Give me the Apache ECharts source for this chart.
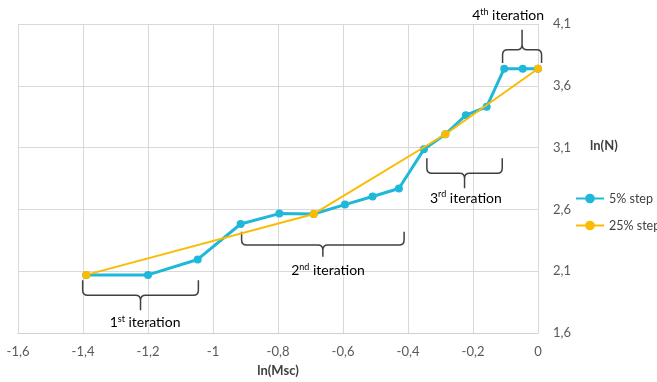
<!DOCTYPE html>
<html>
<head>
<meta charset="utf-8">
<script src="https://cdn.jsdelivr.net/npm/echarts@6/dist/echarts.min.js"></script>
<style>html,body{margin:0;padding:0;background:#fff}#c{width:657px;height:382px}</style>
</head>
<body>
<div id="c"></div>
<script>
// ---- data ----
var step5X = [-1.39, -1.2, -1.047, -0.915, -0.796, -0.69, -0.594, -0.509, -0.428, -0.351, -0.285, -0.222, -0.158, -0.104, -0.047, 0];
var step5Y = [2.07, 2.07, 2.195, 2.482, 2.566, 2.563, 2.639, 2.704, 2.769, 3.086, 3.208, 3.362, 3.43, 3.738, 3.738, 3.738];
var step25X = [-1.39, -0.69, -0.285, 0];
var step25Y = [2.07, 2.563, 3.208, 3.738];
var seriesNames = ['5% step', '25% step'];
var xTicks = [-1.6, -1.4, -1.2, -1, -0.8, -0.6, -0.4, -0.2, 0];
var yTicks = [1.6, 2.1, 2.6, 3.1, 3.6, 4.1];
// bracket annotations: [x1, x2, yEnd, yBar, yTip, labelX, labelY], ordinal, suffix
var bracketSpans = [
  [-1.401, -1.045, 2.027, 1.906, 1.784, -1.209, 1.687],
  [-0.912, -0.412, 2.419, 2.311, 2.216, -0.646, 2.106],
  [-0.342, -0.110, 3.014, 2.892, 2.771, -0.222, 2.692],
  [-0.109, 0.011, 3.784, 3.892, 4.054, -0.092, 4.168]
];
var bracketOrd = ['1', '2', '3', '4'];
var bracketSup = ['st', 'nd', 'rd', 'th'];

var FONT = 'Lato, "Open Sans", sans-serif';
function fmt(v){ var r = Math.round(v*10)/10; return String(r).replace('.', ','); }
function pairs(xs, ys){ return xs.map(function(x,i){ return [x, ys[i]]; }); }

var chart = echarts.init(document.getElementById('c'), null, {renderer:'canvas'});
chart.setOption({
  animation: false,
  backgroundColor: '#fff',
  textStyle: { fontFamily: FONT },
  grid: { left: 18, right: 119, top: 24, bottom: 49 },
  legend: {
    orient: 'vertical', left: 575, top: 192, itemWidth: 28, itemHeight: 12, itemGap: 14, padding: 0,
    data: seriesNames,
    textStyle: { fontFamily: FONT, fontSize: 12.5, color: '#404040', width: 60, overflow: 'none' }
  },
  xAxis: {
    type: 'value', min: xTicks[0], max: xTicks[xTicks.length-1], interval: 0.2,
    name: 'ln(Msc)', nameLocation: 'middle', nameGap: 31,
    nameTextStyle: { fontFamily: FONT, fontSize: 13, fontWeight: 'bold', color: '#404040' },
    axisLine: { show: true, lineStyle: { color: '#d0d0d0', width: 1 } },
    axisTick: { show: false },
    axisLabel: { formatter: fmt, fontFamily: FONT, fontSize: 13, color: '#595959', margin: 12 },
    splitLine: { show: true, lineStyle: { color: '#d9d9d9', width: 1 } }
  },
  yAxis: {
    type: 'value', position: 'right', min: yTicks[0], max: yTicks[yTicks.length-1], interval: 0.5,
    axisLine: { show: false }, axisTick: { show: false },
    axisLabel: { formatter: fmt, fontFamily: FONT, fontSize: 13, color: '#595959', margin: 15 },
    splitLine: { show: true, lineStyle: { color: '#d9d9d9', width: 1 } }
  },
  graphic: [{
    type: 'text', left: 590, top: 139, silent: true,
    style: { text: 'ln(N)', font: 'bold 13px ' + FONT, fill: '#404040' }
  }],
  series: [
    {
      name: seriesNames[0], type: 'line', data: pairs(step5X, step5Y),
      symbol: 'circle', symbolSize: 8, z: 3,
      lineStyle: { color: '#1fb8d8', width: 3 }, itemStyle: { color: '#1fb8d8' }
    },
    {
      name: seriesNames[1], type: 'line', data: pairs(step25X, step25Y),
      symbol: 'circle', symbolSize: 8, z: 4,
      lineStyle: { color: '#fbbb00', width: 2 }, itemStyle: { color: '#fbbb00' }
    },
    {
      type: 'custom', silent: true, clip: false, z: 2,
      data: bracketSpans.map(function(b, i){ return b.concat([i]); }),
      encode: { x: [0, 1], y: [2] },
      renderItem: function(params, api){
        var p1 = api.coord([api.value(0), api.value(3)]);
        var p2 = api.coord([api.value(1), api.value(3)]);
        var pe = api.coord([api.value(0), api.value(2)]);
        var pt = api.coord([(api.value(0)+api.value(1))/2, api.value(4)]);
        var pl = api.coord([api.value(5), api.value(6)]);
        var x1 = p1[0], x2 = p2[0], yb = p1[1], ye = pe[1], xm = pt[0], yt = pt[1];
        var s = yt > yb ? 1 : -1, r = 5;
        var d = 'M' + x1 + ',' + ye + ' L' + x1 + ',' + (yb - s*r) +
          ' Q' + x1 + ',' + yb + ' ' + (x1 + r) + ',' + yb +
          ' L' + (xm - r) + ',' + yb +
          ' Q' + xm + ',' + yb + ' ' + xm + ',' + (yb + s*r) +
          ' L' + xm + ',' + yt +
          ' M' + xm + ',' + (yb + s*r) +
          ' Q' + xm + ',' + yb + ' ' + (xm + r) + ',' + yb +
          ' L' + (x2 - r) + ',' + yb +
          ' Q' + x2 + ',' + yb + ' ' + x2 + ',' + (yb - s*r) +
          ' L' + x2 + ',' + ye;
        var idx = api.value(7);
        return {
          type: 'group',
          children: [
            { type: 'path', shape: { pathData: d }, style: { stroke: '#404040', lineWidth: 1.5, fill: null } },
            { type: 'text', x: pl[0], y: pl[1], style: {
                text: '{n|' + bracketOrd[idx] + '}{s|' + bracketSup[idx] + '}{n| iteration}',
                align: 'center', verticalAlign: 'middle',
                rich: {
                  n: { fontFamily: FONT, fontSize: 14, color: '#404040', lineHeight: 16 },
                  s: { fontFamily: FONT, fontSize: 9, color: '#404040', verticalAlign: 'top', lineHeight: 16, padding: [0,0,6,0] }
                }
            } }
          ]
        };
      }
    }
  ]
});
</script>
</body>
</html>
